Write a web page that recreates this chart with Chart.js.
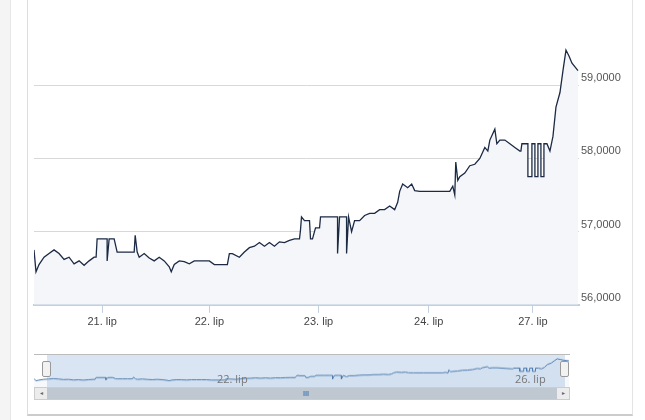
<!DOCTYPE html>
<html><head><meta charset="utf-8">
<script src="https://cdn.jsdelivr.net/npm/chart.js@4"></script>
<style>
body{margin:0;width:645px;height:420px;background:#fff;font-family:"Open Sans",sans-serif;position:relative;overflow:hidden}
#frame{position:absolute;left:27px;top:-2px;width:604px;height:416px;border-left:1px solid #ddd;border-right:1px solid #e4e4e4;border-bottom:2px solid #ccc}
#band{position:absolute;left:0;top:0;width:10px;height:420px;background:#f4f4f4;border-right:1px solid #e6e6e6}
#main{position:absolute;left:0;top:0}
#nav{position:absolute;left:34px;top:354px;width:536px;height:33px;border-top:1px solid #bbb}
#navsel{position:absolute;left:47px;top:355px;width:518px;height:32px;background:rgba(102,153,204,0.25)}
.h{position:absolute;top:361px;width:7px;height:14px;background:#f2f2f2;border:1px solid #999;border-radius:2px}
#sb{position:absolute;left:34px;top:387px;width:536px;height:13px;background:#e6e6e6;border:1px solid #ccc;box-sizing:border-box}
#thumb{position:absolute;left:47px;top:388px;width:518px;height:11px;background:#bfc7d0;text-align:center;font-size:7px;color:#333;line-height:11px}
.arr{position:absolute;top:388px;width:12px;height:11px;background:#ececec;font-size:6px;color:#666;text-align:center;line-height:11px}
.nl{position:absolute;top:371px;font-size:11px;color:#777}
</style></head><body>
<div id="band"></div>
<div id="frame"></div>
<canvas id="main" width="645" height="340"></canvas>
<div id="sb"></div><div id="thumb">III</div>
<div class="arr" style="left:35px">◂</div><div class="arr" style="left:557px">▸</div>
<canvas id="nav" width="536" height="33"></canvas>
<div id="navsel"></div>
<div class="h" style="left:42px"></div><div class="h" style="left:560px"></div>
<div class="nl" style="left:217px">22. lip</div>
<div class="nl" style="left:515px">26. lip</div>
<script>
// trading time (x, in pixel-like session units) and rate values
const times=[35,37,40,45,50,55,60,65,70,75,80,85,90,95,97,98,100,105,108,108,110,115,118,120,125,130,135,136,138,140,145,150,155,160,165,170,172,175,180,185,190,195,200,205,210,215,225,228,230,233,240,245,250,255,260,265,270,275,280,285,290,295,300,301,302,305,310,311,313,316,320,321,330,335,338,338,340,344,347,347,349,352,355,360,365,370,375,380,385,390,395,398,400,403,408,412,415,420,430,440,450,453,455,456,458,460,465,470,475,480,485,488,490,495,497,500,505,510,515,520,521,522,525,528,528,532,532,535,535,538,538,541,541,544,544,547,550,553,556,560,563,566,569,572,575,578];
const values=[56750,56450,56550,56650,56700,56750,56700,56620,56650,56560,56600,56540,56600,56650,56650,56900,56900,56900,56900,56600,56900,56900,56720,56720,56720,56720,56720,56950,56720,56650,56700,56640,56600,56650,56600,56520,56450,56550,56600,56590,56560,56600,56600,56600,56600,56550,56550,56550,56700,56700,56650,56720,56780,56800,56850,56800,56850,56800,56860,56850,56880,56900,56900,57020,57200,57150,57150,56900,56900,57050,57050,57200,57200,57200,57200,56700,57200,57200,57200,56700,57200,57000,57150,57150,57220,57250,57250,57300,57300,57350,57300,57400,57550,57650,57600,57650,57560,57550,57550,57550,57550,57620,57500,57950,57700,57750,57800,57900,57920,58000,58150,58100,58250,58400,58200,58250,58250,58200,58150,58100,58100,58200,58200,58200,57750,57750,58200,58200,57750,57750,58200,58200,57750,57750,58200,58200,58100,58300,58700,58900,59200,59480,59400,59300,59250,59200,59250];
const tickPos=[103,210,319,429,533];
const tickLabels=['21. lip','22. lip','23. lip','24. lip','27. lip'];
const yTicks=[56000,57000,58000,59000];
const pts=times.map((t,i)=>({x:t,y:values[i]}));
new Chart(document.getElementById('main'),{type:'line',
data:{datasets:[{data:pts,borderColor:'#1c2a44',borderWidth:1.3,pointRadius:0,fill:'start',backgroundColor:'#f4f6f9',tension:0}]},
options:{responsive:false,animation:false,layout:{padding:{left:34,right:6,top:12,bottom:8}},
plugins:{legend:{display:false},tooltip:{enabled:false}},
scales:{
x:{type:'linear',min:35,max:579,afterBuildTicks:s=>{s.ticks=tickPos.map(v=>({value:v}))},
 ticks:{callback:(v)=>tickLabels[tickPos.indexOf(v)]||'',color:'#444',font:{size:11},maxRotation:0,autoSkip:false},
 grid:{drawOnChartArea:false,tickLength:8,color:'#c0d0e0'},border:{color:'#c0d0e0',width:2}},
y:{position:'right',min:56000,max:60000,afterBuildTicks:s=>{s.ticks=yTicks.map(v=>({value:v}))},
 afterFit:s=>{s.width=60},
 ticks:{callback:v=>Math.floor(v/1000)+',0000',color:'#555',font:{size:11},labelOffset:-7,padding:2},
 grid:{color:'#d8d8d8',drawTicks:false},border:{display:false}}}}});
new Chart(document.getElementById('nav'),{type:'line',
data:{datasets:[{data:pts,borderColor:'#4572a7',borderWidth:1,pointRadius:0,fill:'start',backgroundColor:'rgba(69,114,167,0.05)',tension:0}]},
options:{responsive:false,animation:false,layout:{padding:0},plugins:{legend:{display:false},tooltip:{enabled:false}},
scales:{x:{type:'linear',min:35,max:579,display:false},y:{min:55600,max:60000,display:false}}}});
</script></body></html>
